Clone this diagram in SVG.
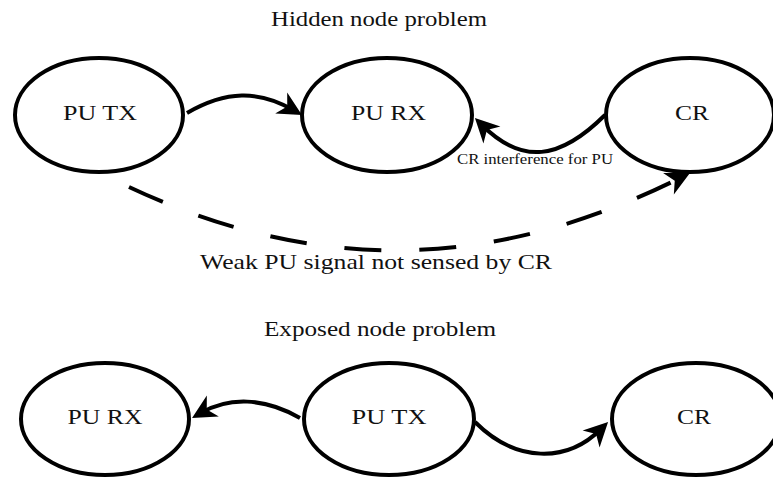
<svg xmlns="http://www.w3.org/2000/svg" width="773" height="479" viewBox="0 0 773 479">
  <defs>
    <marker id="head" markerUnits="userSpaceOnUse" orient="auto" refX="0" refY="0" markerWidth="30" markerHeight="30" overflow="visible">
      <path d="M10,0 L-14,-12 L-7,0 L-14,12 Z" fill="#000"/>
    </marker>
  </defs>
  <style>
    .node ellipse { fill: #fff; stroke: #000; stroke-width: 4; }
    .lbl { font-family: "Liberation Serif", "DejaVu Serif", serif; font-size: 22px; fill: #111; text-anchor: middle; }
    .small { font-family: "Liberation Serif", "DejaVu Serif", serif; font-size: 15px; fill: #111; text-anchor: middle; }
    .edge { fill: none; stroke: #000; stroke-width: 4; marker-end: url(#head); }
    .dash { stroke-dasharray: 37 38; }
  </style>

  <!-- section titles -->
  <text class="lbl" x="379" y="26" textLength="216" lengthAdjust="spacingAndGlyphs">Hidden node problem</text>
  <text class="lbl" x="380" y="336" textLength="232" lengthAdjust="spacingAndGlyphs">Exposed node problem</text>

  <!-- hidden node scenario -->
  <g id="hidden-pu-tx" class="node">
    <ellipse cx="99" cy="115" rx="84" ry="57"/>
    <text class="lbl" x="100" y="120" textLength="74" lengthAdjust="spacingAndGlyphs">PU TX</text>
  </g>
  <g id="hidden-pu-rx" class="node">
    <ellipse cx="387" cy="115" rx="85" ry="57"/>
    <text class="lbl" x="388.5" y="120" textLength="75" lengthAdjust="spacingAndGlyphs">PU RX</text>
  </g>
  <g id="hidden-cr" class="node">
    <ellipse cx="690" cy="115" rx="84" ry="57"/>
    <text class="lbl" x="692" y="120" textLength="34" lengthAdjust="spacingAndGlyphs">CR</text>
  </g>

  <!-- exposed node scenario -->
  <g id="exposed-pu-rx" class="node">
    <ellipse cx="105" cy="419" rx="84" ry="56"/>
    <text class="lbl" x="105" y="424" textLength="75" lengthAdjust="spacingAndGlyphs">PU RX</text>
  </g>
  <g id="exposed-pu-tx" class="node">
    <ellipse cx="389" cy="419" rx="85" ry="56"/>
    <text class="lbl" x="389" y="424" textLength="75" lengthAdjust="spacingAndGlyphs">PU TX</text>
  </g>
  <g id="exposed-cr" class="node">
    <ellipse cx="696" cy="419" rx="84" ry="56"/>
    <text class="lbl" x="694" y="424" textLength="34" lengthAdjust="spacingAndGlyphs">CR</text>
  </g>

  <!-- connectors -->
  <g id="connectors">
    <path class="edge" d="M187,113 C226,90.5 258.7,90 293.3,110"/>
    <path class="edge" d="M605,115 C560,160 522,165 482,125"/>
    <path class="edge dash" d="M129,187 C312,273 490,273 681,177.5"/>
    <path class="edge" d="M300,418 C263.6,397 228.4,397 200.7,413"/>
    <path class="edge" d="M475,422 C516,463 567,463 601,429"/>
  </g>

  <!-- connector labels -->
  <text class="small" x="535" y="164" textLength="156" lengthAdjust="spacingAndGlyphs">CR interference for PU</text>
  <text class="lbl" x="376" y="269" textLength="352" lengthAdjust="spacingAndGlyphs">Weak PU signal not sensed by CR</text>
</svg>
